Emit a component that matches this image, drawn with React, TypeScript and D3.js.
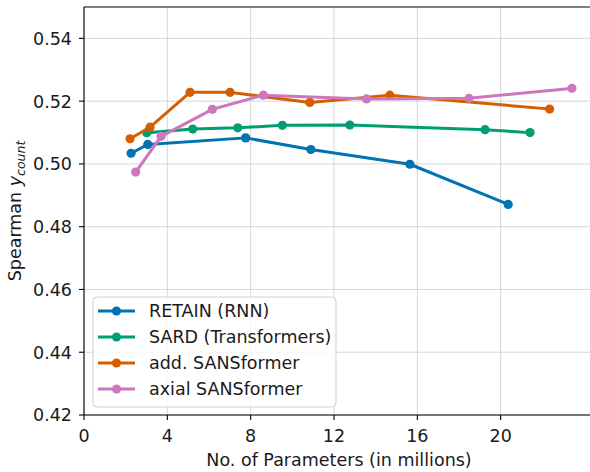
import React from "react";
import * as d3 from "d3";

const seriesNames = ["RETAIN (RNN)", "SARD (Transformers)", "add. SANSformer", "axial SANSformer"];
const seriesColors = ["#0173B2", "#029E73", "#D55E00", "#CC78BC"];

const retainX = [2.26, 3.06, 7.76, 10.89, 15.64, 20.36];
const retainY = [0.5034, 0.5062, 0.5083, 0.5046, 0.4999, 0.4871];
const sardX = [3.01, 5.22, 7.38, 9.52, 12.76, 19.25, 21.41];
const sardY = [0.5099, 0.5111, 0.5115, 0.5123, 0.5124, 0.5109, 0.51];
const addX = [2.21, 3.17, 5.09, 7.01, 10.84, 14.68, 22.35];
const addY = [0.508, 0.5117, 0.5228, 0.5228, 0.5196, 0.5219, 0.5175];
const axialX = [2.48, 3.7, 6.16, 8.61, 13.56, 18.48, 23.42];
const axialY = [0.4974, 0.5088, 0.5174, 0.5219, 0.5207, 0.5209, 0.5241];

const xTicks = [0, 4, 8, 12, 16, 20];
const yTicks = [0.42, 0.44, 0.46, 0.48, 0.5, 0.52, 0.54];

const W = 590, H = 472;
const left = 84, right = 594, top = 7, bottom = 415;
const FONT = "DejaVu Sans, sans-serif";
const FS = 17.5;

export default function App() {
  const x = d3.scaleLinear().domain([0, 24.48]).range([left, right]);
  const y = d3.scaleLinear().domain([0.42, 0.55]).range([bottom, top]);
  const series = [
    { xs: retainX, ys: retainY },
    { xs: sardX, ys: sardY },
    { xs: addX, ys: addY },
    { xs: axialX, ys: axialY },
  ];
  const line = d3.line<[number, number]>().x((d) => x(d[0])).y((d) => y(d[1]));
  const lgX = 93, lgY = 297, lgW = 243, lgH = 110, rowH = 26;
  return (
    <svg width={W} height={H} style={{ position: "fixed", left: 0, top: 0 }} fontFamily={FONT}>
      <rect width={W} height={H} fill="white" />
      <defs>
        <clipPath id="plot">
          <rect x={left} y={top} width={right - left} height={bottom - top} />
        </clipPath>
      </defs>
      {xTicks.map((t) => (
        <line key={"gx" + t} x1={x(t)} x2={x(t)} y1={top} y2={bottom} stroke="#d3d3d3" strokeWidth={0.9} />
      ))}
      {yTicks.map((t) => (
        <line key={"gy" + t} x1={left} x2={right} y1={y(t)} y2={y(t)} stroke="#d3d3d3" strokeWidth={0.9} />
      ))}
      <g clipPath="url(#plot)">
        {series.map((s, i) => {
          const pts = s.xs.map((v, j) => [v, s.ys[j]] as [number, number]);
          return (
            <g key={i}>
              <path d={line(pts) || ""} fill="none" stroke={seriesColors[i]} strokeWidth={3} strokeLinejoin="round" strokeLinecap="square" />
              {pts.map((p, j) => (
                <circle key={j} cx={x(p[0])} cy={y(p[1])} r={4.6} fill={seriesColors[i]} />
              ))}
            </g>
          );
        })}
      </g>
      <line x1={left} x2={left} y1={top} y2={bottom} stroke="black" strokeWidth={1.1} />
      <line x1={left} x2={right} y1={bottom} y2={bottom} stroke="black" strokeWidth={1.1} />
      <line x1={left} x2={right} y1={top} y2={top} stroke="black" strokeWidth={1.1} />
      {xTicks.map((t) => (
        <g key={"xt" + t}>
          <line x1={x(t)} x2={x(t)} y1={bottom} y2={bottom + 5} stroke="black" strokeWidth={1.1} />
          <text x={x(t)} y={bottom + 27} textAnchor="middle" fontSize={FS} fill="#1a1a1a">
            {t}
          </text>
        </g>
      ))}
      {yTicks.map((t) => (
        <g key={"yt" + t}>
          <line x1={left - 5} x2={left} y1={y(t)} y2={y(t)} stroke="black" strokeWidth={1.1} />
          <text x={left - 12} y={y(t) + 6.4} textAnchor="end" fontSize={FS} fill="#1a1a1a">
            {t.toFixed(2)}
          </text>
        </g>
      ))}
      <text x={(left + right) / 2} y={466} textAnchor="middle" fontSize={FS} fill="#1a1a1a">
        No. of Parameters (in millions)
      </text>
      <text transform={`translate(21, ${(top + bottom) / 2}) rotate(-90)`} textAnchor="middle" fontSize={FS} fill="#1a1a1a">
        Spearman <tspan fontStyle="italic">y</tspan>
        <tspan fontStyle="italic" fontSize={12.5} dy={4}>count</tspan>
      </text>
      <rect x={lgX} y={lgY} width={lgW} height={lgH} rx={4} fill="white" fillOpacity={0.8} stroke="#d0d0d0" strokeWidth={1} />
      {seriesNames.map((n, i) => {
        const cy = lgY + 14 + i * rowH;
        return (
          <g key={n}>
            <line x1={lgX + 5} x2={lgX + 42} y1={cy} y2={cy} stroke={seriesColors[i]} strokeWidth={3} />
            <circle cx={lgX + 23.5} cy={cy} r={4.6} fill={seriesColors[i]} />
            <text x={lgX + 56} y={cy + 6.3} fontSize={FS} fill="#1a1a1a">
              {n}
            </text>
          </g>
        );
      })}
    </svg>
  );
}
